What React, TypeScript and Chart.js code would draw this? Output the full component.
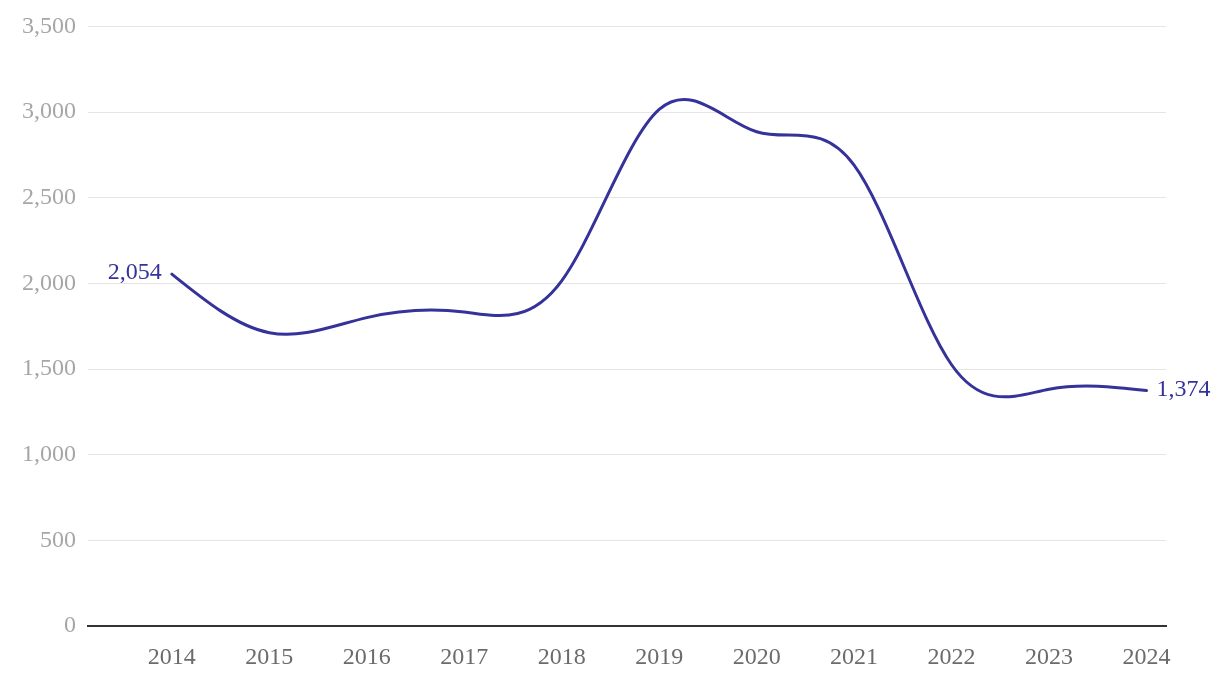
import React, { useEffect, useRef } from 'react';
import { Chart, registerables } from 'chart.js';

Chart.register(...registerables);

const years: number[] = [2014, 2015, 2016, 2017, 2018, 2019, 2020, 2021, 2022, 2023, 2024];
const values: number[] = [2054, 1712, 1800, 1833, 2015, 3015, 2885, 2690, 1525, 1382, 1374];
const yMin = 0;
const yMax = 3500;
const yStep = 500;
const xMin = 2013.14;
const xMax = 2024.2;

const LINE_COLOR = '#35339a';
const FONT_FAMILY = '"Liberation Serif", "Times New Roman", serif';
const FONT_SIZE = 24;

// d3-style natural cubic spline control points
function naturalControlPoints(x: number[]): [number[], number[]] {
  const n = x.length - 1;
  const a: number[] = new Array(n);
  const b: number[] = new Array(n);
  const r: number[] = new Array(n);
  let m: number;
  a[0] = 0; b[0] = 2; r[0] = x[0] + 2 * x[1];
  for (let i = 1; i < n - 1; ++i) { a[i] = 1; b[i] = 4; r[i] = 4 * x[i] + 2 * x[i + 1]; }
  a[n - 1] = 2; b[n - 1] = 7; r[n - 1] = 8 * x[n - 1] + x[n];
  for (let i = 1; i < n; ++i) { m = a[i] / b[i - 1]; b[i] -= m; r[i] -= m * r[i - 1]; }
  a[n - 1] = r[n - 1] / b[n - 1];
  for (let i = n - 2; i >= 0; --i) a[i] = (r[i] - a[i + 1]) / b[i];
  b[n - 1] = (x[n] + a[n - 1]) / 2;
  for (let i = 0; i < n - 1; ++i) b[i] = 2 * x[i + 1] - a[i + 1];
  return [a, b];
}

const naturalSplinePlugin = {
  id: 'naturalSpline',
  beforeDatasetDraw(chart: any, args: any) {
    const meta = args.meta;
    const line = meta.dataset;
    const pts = meta.data;
    if (!line || !pts || pts.length < 3) return;
    if (typeof line.updateControlPoints === 'function') {
      line.updateControlPoints(chart.chartArea, meta.iScale ? meta.iScale.axis : 'x');
    }
    const xs = pts.map((p: any) => p.x);
    const ys = pts.map((p: any) => p.y);
    const [ax, bx] = naturalControlPoints(xs);
    const [ay, by] = naturalControlPoints(ys);
    for (let i = 0; i < pts.length - 1; i++) {
      pts[i].cp2x = ax[i];
      pts[i].cp2y = ay[i];
      pts[i + 1].cp1x = bx[i];
      pts[i + 1].cp1y = by[i];
    }
    pts[0].cp1x = pts[0].x; pts[0].cp1y = pts[0].y;
    const last = pts[pts.length - 1];
    last.cp2x = last.x; last.cp2y = last.y;
    line._path = undefined;
  },
};

const endLabelsPlugin = {
  id: 'endLabels',
  afterDatasetsDraw(chart: any) {
    const meta = chart.getDatasetMeta(0);
    const pts = meta.data;
    if (!pts || !pts.length) return;
    const ctx = chart.ctx;
    ctx.save();
    ctx.font = `${FONT_SIZE}px ${FONT_FAMILY}`;
    ctx.fillStyle = LINE_COLOR;
    ctx.textBaseline = 'middle';
    const first = pts[0];
    const last = pts[pts.length - 1];
    ctx.textAlign = 'right';
    ctx.fillText(values[0].toLocaleString('en-US'), first.x - 10, first.y - 1);
    ctx.textAlign = 'left';
    ctx.fillText(values[values.length - 1].toLocaleString('en-US'), last.x + 10, last.y - 1);
    ctx.restore();
  },
};

export default function App() {
  const canvasRef = useRef<HTMLCanvasElement | null>(null);

  useEffect(() => {
    const canvas = canvasRef.current;
    if (!canvas) return;
    const chart = new Chart(canvas, {
      type: 'line',
      data: {
        datasets: [
          {
            data: years.map((y, i) => ({ x: y, y: values[i] })),
            borderColor: LINE_COLOR,
            borderWidth: 3,
            pointRadius: 0,
            pointHoverRadius: 0,
            tension: 0.4,
            fill: false,
            capBezierPoints: false,
            borderCapStyle: 'round',
          } as any,
        ],
      },
      options: {
        animation: false,
        responsive: false,
        devicePixelRatio: 1,
        events: [],
        layout: { padding: { top: 26, right: 54, bottom: 0, left: 0 } },
        plugins: {
          legend: { display: false },
          tooltip: { enabled: false },
        },
        scales: {
          x: {
            type: 'linear',
            min: xMin,
            max: xMax,
            afterBuildTicks: (scale: any) => {
              scale.ticks = years.map((y) => ({ value: y }));
            },
            afterFit: (scale: any) => {
              scale.height = 54;
            },
            grid: { display: false, drawTicks: false },
            border: { display: true, color: '#333333', width: 2 },
            ticks: {
              autoSkip: false,
              maxRotation: 0,
              padding: 17,
              color: '#6b6b6b',
              font: { family: FONT_FAMILY, size: FONT_SIZE },
              callback: (v: any) => String(v),
            },
          },
          y: {
            min: yMin,
            max: yMax,
            afterFit: (scale: any) => {
              scale.width = 88;
            },
            grid: {
              drawTicks: false,
              color: (ctx: any) => (ctx.tick && ctx.tick.value === 0 ? 'rgba(0,0,0,0)' : '#e5e5e5'),
              lineWidth: 1,
            },
            border: { display: false },
            ticks: {
              stepSize: yStep,
              padding: 12,
              color: '#a6a6a6',
              font: { family: FONT_FAMILY, size: FONT_SIZE },
              callback: (v: any) => Number(v).toLocaleString('en-US'),
            },
          },
        },
      },
      plugins: [naturalSplinePlugin, endLabelsPlugin],
    });
    return () => {
      chart.destroy();
    };
  }, []);

  return (
    <div style={{ position: 'fixed', left: 0, top: 0, width: 1220, height: 680, background: '#ffffff' }}>
      <canvas ref={canvasRef} width={1220} height={680} style={{ display: 'block', width: 1220, height: 680 }} />
    </div>
  );
}
